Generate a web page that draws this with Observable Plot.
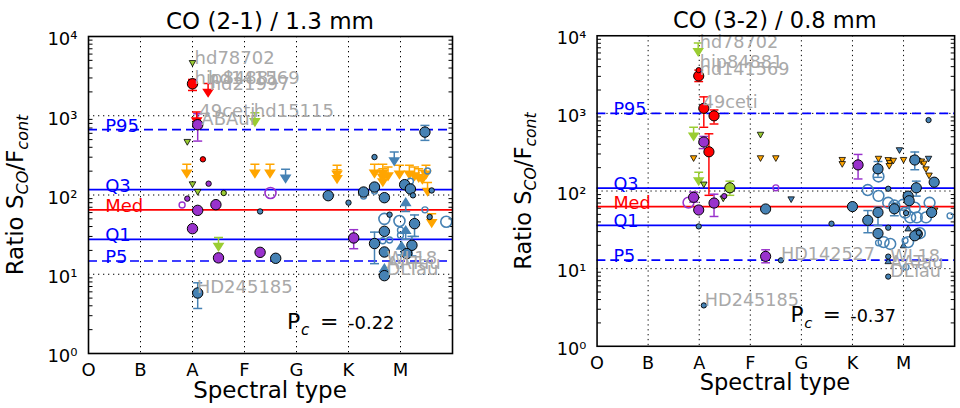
<!DOCTYPE html>
<html><head><meta charset="utf-8">
<script src="https://cdn.jsdelivr.net/npm/d3@7"></script>
<script src="https://cdn.jsdelivr.net/npm/@observablehq/plot@0.6"></script>
<style>
body{margin:0;background:#fff;overflow:hidden;}
#wrap{position:relative;width:960px;height:408px;overflow:hidden;background:#fff;}
.panel{position:absolute;top:0;}
</style></head><body><div id="wrap"></div>
<script>
// ---------- data ----------
const specTypes = ["O","B","A","F","G","K","M"];
const statNames = ["P95","Q3","Med","Q1","P5"];
const co21Stats = [667, 117, 65, 27.6, 14.7];
const co32Stats = [1000, 109, 62.8, 36.1, 12.9];
const co21Pc = "-0.22";
const co32Pc = "-0.37";

// [spectral type, ratio, class, errLow, errHigh]
const co21Big = [
  [2.00,2530,"D",2085,2870],[2.10,770,"H",479,1060],[2.10,64,"H"],[2.45,75.5,"H"],
  [2.00,37.6,"H"],[2.50,16.1,"H"],[2.10,5.8,"T",3.7,7.8],[3.30,18.9,"H"],[3.60,15.9,"T"],
  [4.61,98,"T"],[5.10,28.7,"H",21,36.5],[5.29,109,"T"],[5.50,126,"T"],[5.69,92.5,"T"],
  [5.50,24.4,"T",13.6,34],[5.69,34.8,"T"],[5.69,19.1,"T"],[5.69,9.6,"T"],[6.08,135,"T"],
  [6.19,119,"T"],[6.27,43.5,"T",30,56],[6.22,23.2,"T",17,30],[6.12,18.2,"T"],[6.47,622,"T",489,755]
];
const co21Small = [
  [2.20,282,"D"],[2.31,139,"H"],[2.60,106,"G"],[1.90,90,"H"],[3.30,62,"T"],[5.00,80,"T"],
  [5.50,301,"T"],[5.79,56.5,"T"],[6.24,99,"T"],[6.56,52.8,"T"],[6.60,114,"T"]
];
const co21OpenBig = [[3.50,106,"H"],[5.69,50,"T"],[5.98,47,"T"],[6.88,46,"T"]];
const co21OpenSmall = [
  [1.80,74.8,"H"],[6.47,65,"T"],[6.52,201,"T"],[6.19,149,"T"],[5.29,97,"T"],[5.50,112,"T"],
  [5.79,27,"T"],[6.00,31,"T"],[5.66,26.5,"T"],[6.00,36,"T"]
];
const co21TriDown = [[2.00,4610,"G"],[1.90,466,"G"],[2.00,136,"G"],[2.10,109,"G"]];
const co21TriUp = [];
const co21UpperLim = [
  [2.30,2557,"D"],[2.08,1112,"D"],[1.89,244,"N"],[3.20,1091,"G"],[3.20,244,"N"],[3.49,244,"N"],
  [3.79,211,"T"],[2.50,29,"G"],[4.78,237,"N"],[4.78,208,"N"],[5.50,244,"N"],[5.66,244,"N"],
  [5.66,215,"N"],[5.76,225,"N"],[5.66,190,"N"],[5.98,237,"N"],[6.17,237,"N"],[6.27,225,"N"],
  [6.35,215,"N"],[6.42,204,"N"],[6.49,237,"N"],[6.52,144,"N"],[6.60,58,"N"],[5.88,348,"T"]
];
const co21LowerLim = [[6.10,62,"T"],[6.10,27.6,"T"],[6.02,17.5,"T"],[5.69,9.1,"T"]];
const co21Names = ["hd78702","hip84881","hd141569","hd21997","49ceti","hd15115","ABAur","HD245185","WL18","AATau","DLTau"];
const co21NameX = [2.04,2.04,2.30,2.33,2.13,3.18,2.17,2.08,5.73,5.73,5.73];
const co21NameY = [5330,3013,3013,2530,1145,1145,916,6.9,15.7,13.6,11.5];

const co32Big = [
  [1.99,3035,"D",2570,3610],[2.09,1162,"D",662,1632],[2.29,930,"D",730,1107],[2.09,428,"H",352,505],
  [2.19,320,"D",88,546],[2.60,110,"G",88,134],[1.89,83,"H",72,97],[1.99,57,"H"],[2.29,70,"H",47,91],
  [3.30,58.7,"T"],[3.30,14.4,"H",11.9,17.5],[5.00,63,"T"],[5.11,217,"H",143,296],[5.30,42,"T",29,56],
  [5.50,193,"T",150,240],[5.50,53,"T",36,62],[5.50,28.4,"T"],[5.82,59,"T",48,70],[6.22,251,"T",188,318],
  [6.25,110,"T",86,134],[6.09,86,"T"],[6.11,75,"T"],[6.27,28,"T"],[6.22,26.5,"T"],[6.60,130,"T"],[6.55,53,"T"]
];
const co32Small = [
  [1.99,3610,"D"],[1.99,35,"T"],[2.09,3.36,"T"],[2.49,86,"H"],[3.60,12.8,"T"],[4.59,38,"T"],
  [5.70,107,"T"],[5.70,33.7,"T"],[5.70,14.3,"T"],[5.70,7.9,"T"],[6.49,820,"T"],[6.30,29,"T"],[6.05,52,"T"]
];
const co32OpenBig = [
  [1.79,71,"H"],[5.30,103,"T"],[5.51,86.6,"T"],[5.70,70.6,"T"],[5.61,22,"T"],[5.74,20.8,"T"],
  [5.51,154,"T"],[6.03,52.5,"T"],[6.13,45.7,"T"],[6.26,45.7,"T"],[6.44,45.7,"T"],[6.22,61,"T"],
  [6.51,70.6,"T"],[6.09,22,"T"],[6.32,28.6,"T"],[5.99,66.5,"T"],[5.82,65,"T"]
];
const co32OpenSmall = [[3.50,110,"H"],[5.51,21.5,"T"],[6.91,48,"T"],[6.03,23,"T"],[6.05,10.5,"T"]];
const co32TriDown = [
  [2.09,121,"G"],[2.47,80,"G"],[3.20,530,"G"],
  [1.89,264,"N"],[3.20,264,"N"],[3.50,264,"N"],[4.80,251,"N"],[4.80,222,"N"],[5.51,260,"N"],
  [5.70,250,"N"],[5.73,230,"N"],[5.80,245,"N"],[5.72,210,"N"],[6.00,251,"N"],[6.28,245,"N"],
  [6.35,240,"N"],[6.40,225,"N"],[6.44,190,"N"],[6.50,158,"N"],[6.61,56,"N"],
  [3.80,78,"T"],[5.92,335,"T"],[6.49,260,"T"],[6.20,260,"T"]
];
const co32TriUp = [[6.09,33,"T"],[5.70,12.5,"T"],[6.00,20,"T"]];
const co32UpperLim = [[1.98,8080,"G"],[1.89,662,"G"],[1.99,175,"G"]];
const co32LowerLim = [];
const co32Names = ["hd78702","hip84881","hd141569","49ceti","HD245185","HD142527","WL18","AATau","DLTau"];
const co32NameX = [2.01,2.01,2.01,2.07,2.11,3.60,5.74,5.74,5.74];
const co32NameY = [8240,4520,3720,1371,3.96,15.4,14.4,11.9,9.3];

// ---------- styling ----------
const palette = {D:"#ff0000", H:"#9932cc", T:"#4682b4", G:"#9acd32", N:"#ffa500"};
const statColor = n => n === "Med" ? "#ff0000" : "#0000ff";
const FONT = "DejaVu Sans";
const col = d => palette[d.c];
const rec = a => ({x:a[0], y:a[1], c:a[2], lo:a[3], hi:a[4]});

const capSym = {draw(c){c.moveTo(-4.5,0);c.lineTo(4.5,0);}};
const downArrow = {draw(c){c.moveTo(-4.5,0);c.lineTo(4.5,0);c.moveTo(0,0);c.lineTo(0,7);c.moveTo(-4.5,6);c.lineTo(4.5,6);c.lineTo(0,13);c.closePath();}};
const upArrow = {draw(c){c.moveTo(-4.5,0);c.lineTo(4.5,0);c.moveTo(0,0);c.lineTo(0,-7);c.moveTo(-4.5,-6);c.lineTo(4.5,-6);c.lineTo(0,-13);c.closePath();}};
const triDown = {draw(c){c.moveTo(-3.3,-2.6);c.lineTo(3.3,-2.6);c.lineTo(0,3.2);c.closePath();}};
const triUp = {draw(c){c.moveTo(-3.3,2.6);c.lineTo(3.3,2.6);c.lineTo(0,-3.2);c.closePath();}};
const tickL = {draw(c){c.moveTo(0,0);c.lineTo(4,0);}};
const tickR = {draw(c){c.moveTo(0,0);c.lineTo(-4,0);}};
const sup = ["⁰","¹","²","³","⁴"];

function panel(cfg){
  const big = cfg.big.map(rec), small = cfg.small.map(rec);
  const oBig = cfg.openBig.map(rec), oSmall = cfg.openSmall.map(rec);
  const tD = cfg.triDown.map(rec), tU = cfg.triUp.map(rec);
  const up = cfg.upper.map(rec), lo = cfg.lower.map(rec);
  const errs = big.filter(d => d.lo != null);
  const stats = statNames.map((n,i) => ({n, v: cfg.stats[i]}));
  const names = cfg.names.map((n,i) => ({n, x: cfg.nameX[i], y: cfg.nameY[i]}));
  const minor = [];
  for (let k = 0; k < 4; k++) for (let m = 2; m < 10; m++) minor.push(m * Math.pow(10,k));

  const svg = Plot.plot({
    width: cfg.width, height: 408,
    marginLeft: cfg.ml, marginRight: cfg.mr, marginTop: 36, marginBottom: 55,
    style: {fontFamily: FONT, fontSize: "18px", background: "transparent", overflow: "visible"},
    x: {domain: [0,7]},
    y: {type: "log", domain: [1, 1e4]},
    marks: [
      Plot.gridX([1,2,3,4,5,6], {stroke:"black", strokeOpacity:1, strokeWidth:1, strokeDasharray:"1.3,3.7"}),
      Plot.gridY([10,100,1000], {stroke:"black", strokeOpacity:1, strokeWidth:1, strokeDasharray:"1.3,3.7"}),
      Plot.dot(minor, {y: d=>d, frameAnchor:"left", symbol: tickL, stroke:"black", strokeWidth:1}),
      Plot.dot(minor, {y: d=>d, frameAnchor:"right", symbol: tickR, stroke:"black", strokeWidth:1}),
      Plot.ruleY(stats.filter(d => d.n==="P95"||d.n==="P5"), {y:"v", stroke: d=>statColor(d.n), strokeWidth:1.7, strokeDasharray:"9,5"}),
      Plot.ruleY(stats.filter(d => !(d.n==="P95"||d.n==="P5")), {y:"v", stroke: d=>statColor(d.n), strokeWidth:1.7}),
      Plot.text(stats, {x: ()=>0.32, y:"v", text:"n", fill: d=>statColor(d.n), textAnchor:"start", lineAnchor:"bottom", fontSize:18, dy: 2}),
      // error bars
      Plot.ruleX(errs, {x:"x", y1:"lo", y2:"hi", stroke: col, strokeWidth:1.5}),
      Plot.dot(errs, {x:"x", y:"lo", symbol: capSym, stroke: col, strokeWidth:1.5}),
      Plot.dot(errs, {x:"x", y:"hi", symbol: capSym, stroke: col, strokeWidth:1.5}),
      // limits
      Plot.dot(up, {x:"x", y:"y", symbol: downArrow, stroke: col, fill: col, strokeWidth:1.5}),
      Plot.dot(lo, {x:"x", y:"y", symbol: upArrow, stroke: col, fill: col, strokeWidth:1.5}),
      Plot.dot(tD, {x:"x", y:"y", symbol: triDown, fill: col, stroke:"black", strokeWidth:0.8}),
      Plot.dot(tU, {x:"x", y:"y", symbol: triUp, fill: col, stroke:"black", strokeWidth:0.8}),
      // detections
      Plot.dot(oBig, {x:"x", y:"y", r:5.5, fill:"none", stroke: col, strokeWidth:1.6}),
      Plot.dot(oSmall, {x:"x", y:"y", r:3, fill:"none", stroke: col, strokeWidth:1.4}),
      Plot.dot(big, {x:"x", y:"y", r:5.2, fill: col, stroke:"black", strokeWidth:1}),
      Plot.dot(small, {x:"x", y:"y", r:2.7, fill: col, stroke:"black", strokeWidth:0.9}),
      // names
      Plot.text(names, {x:"x", y:"y", text:"n", fill:"#a9a9a9", textAnchor:"start", fontSize:18}),
      // axes
      Plot.axisX({ticks:[0,1,2,3,4,5,6], tickFormat: i => specTypes[i], tickSize:0, tickPadding:10, fontSize:18, label:null, fill:"black"}),
      Plot.axisY({ticks:[1,10,100,1000,10000], tickFormat: d => "10" + sup[Math.round(Math.log10(d))], tickSize:0, tickPadding:11, fontSize:18, label:null, fill:"black", dy:3}),
      Plot.frame({stroke:"black", strokeWidth:1.6})
    ]
  });

  const s = d3.select(svg);
  const cx = cfg.ml + (cfg.width0 - cfg.ml - cfg.mr0)/2;
  s.append("text").attr("x", cx).attr("y", 29).attr("text-anchor","middle")
    .attr("font-family", FONT).attr("font-size", 23).attr("fill","black").text(cfg.title);
  s.append("text").attr("x", cx).attr("y", 398).attr("text-anchor","middle")
    .attr("font-family", FONT).attr("font-size", 23).attr("fill","black").text("Spectral type");
  const yl = s.append("text").attr("transform", `translate(${cfg.ylx},195) rotate(-90)`)
    .attr("text-anchor","middle").attr("font-family", FONT).attr("font-size", 23).attr("fill","black");
  yl.append("tspan").text("Ratio S");
  yl.append("tspan").attr("font-size",16).attr("font-style","italic").attr("dy",5).text("CO");
  yl.append("tspan").attr("dy",-5).text("/F");
  yl.append("tspan").attr("font-size",16).attr("font-style","italic").attr("dy",5).text("cont");
  const px = cfg.pcx;
  const t = (x, y, size, str, italic) => s.append("text").attr("x", x).attr("y", y)
    .attr("text-anchor","start").attr("font-family", FONT).attr("font-size", size)
    .attr("font-style", italic ? "italic" : "normal").attr("fill","black").text(str);
  t(px, 329, 22, "P");
  t(px+14, 335, 15, "c", true);
  t(px+33, 329, 22, "=");
  t(px+61, 329, 18, cfg.pc);
  return svg;
}

const wrap = document.getElementById("wrap");
const left = document.createElement("div"); left.className = "panel"; left.style.left = "0px";
const right = document.createElement("div"); right.className = "panel"; right.style.left = "480px";
wrap.appendChild(left); wrap.appendChild(right);

left.appendChild(panel({
  width:480, width0:480, ml:88, mr:28, mr0:28, title:"CO (2-1) / 1.3 mm", ylx:23, pcx:287, pc: co21Pc,
  big:co21Big, small:co21Small, openBig:co21OpenBig, openSmall:co21OpenSmall,
  triDown:co21TriDown, triUp:co21TriUp, upper:co21UpperLim, lower:co21LowerLim,
  names:co21Names, nameX:co21NameX, nameY:co21NameY, stats:co21Stats
}));
right.appendChild(panel({
  width:490, width0:483, ml:119, mr:6, mr0:0, title:"CO (3-2) / 0.8 mm", ylx:52, pcx:317, pc: co32Pc,
  big:co32Big, small:co32Small, openBig:co32OpenBig, openSmall:co32OpenSmall,
  triDown:co32TriDown, triUp:co32TriUp, upper:co32UpperLim, lower:co32LowerLim,
  names:co32Names, nameX:co32NameX, nameY:co32NameY, stats:co32Stats
}));
</script></body></html>
